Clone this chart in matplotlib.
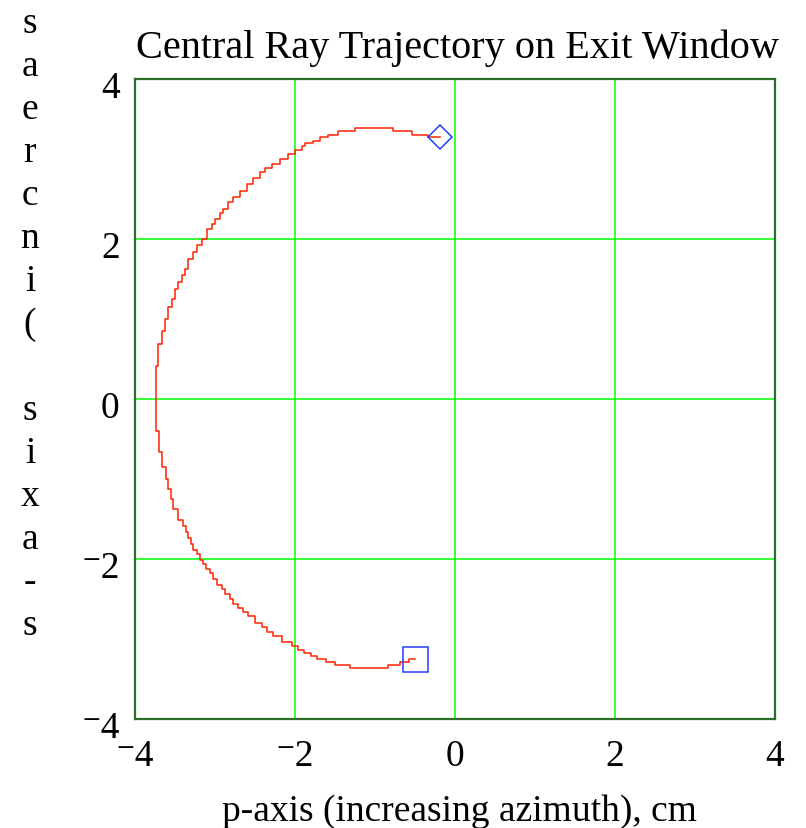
import numpy as np
import matplotlib
matplotlib.use('Agg')
import matplotlib.pyplot as plt
import matplotlib.transforms as mtransforms

# trajectory (cm), from the square end to the diamond end
p_vals = [-0.500, -0.570, -0.570, -0.688, -0.688, -0.841, -0.841, -1.313, -1.313, -1.500,
          -1.500, -1.616, -1.616, -1.729, -1.729, -1.800, -1.800, -1.883, -1.883, -1.958,
          -1.958, -2.041, -2.166, -2.270, -2.354, -2.416, -2.500, -2.583, -2.645, -2.708,
          -2.770, -2.813, -2.875, -2.916, -2.979, -3.020, -3.063, -3.116, -3.145, -3.188,
          -3.229, -3.270, -3.300, -3.341, -3.366, -3.395, -3.466, -3.520, -3.550, -3.583,
          -3.616, -3.658, -3.700, -3.741, -3.741, -3.708, -3.708, -3.666, -3.658, -3.625,
          -3.591, -3.541, -3.504, -3.466, -3.416, -3.375, -3.333, -3.270, -3.229, -3.166,
          -3.104, -3.041, -3.000, -2.938, -2.895, -2.833, -2.770, -2.688, -2.604, -2.520,
          -2.438, -2.375, -2.291, -2.188, -2.083, -2.000, -1.916, -1.875, -1.770, -1.688,
          -1.583, -1.458, -1.250, -0.770, -0.770, -0.541, -0.541, -0.354, -0.341, -0.188]
s_vals = [-3.246, -3.246, -3.284, -3.284, -3.321, -3.321, -3.359, -3.359, -3.321, -3.321,
          -3.284, -3.284, -3.246, -3.246, -3.209, -3.209, -3.171, -3.171, -3.134, -3.134,
          -3.091, -3.041, -2.966, -2.909, -2.854, -2.800, -2.716, -2.666, -2.616, -2.563,
          -2.500, -2.438, -2.375, -2.325, -2.250, -2.175, -2.125, -2.063, -2.009, -1.938,
          -1.884, -1.813, -1.741, -1.666, -1.584, -1.509, -1.375, -1.250, -1.125, -1.000,
          -0.854, -0.666, -0.396, -0.354, 0.416, 0.438, 0.688, 0.709, 0.854, 1.000,
          1.146, 1.250, 1.375, 1.463, 1.550, 1.625, 1.750, 1.841, 1.925, 2.000,
          2.125, 2.188, 2.250, 2.325, 2.375, 2.459, 2.521, 2.604, 2.688, 2.759,
          2.834, 2.884, 2.938, 3.000, 3.063, 3.116, 3.166, 3.196, 3.229, 3.271,
          3.304, 3.346, 3.384, 3.384, 3.346, 3.346, 3.304, 3.304, 3.271, 3.271]

tick_vals = [-4, -2, 0, 2, 4]
tick_text = ['\u207b4', '\u207b2', '0', '2', '4']
ylabel_chars = ['s', 'a', 'e', 'r', 'c', 'n', 'i', '(', '', 's', 'i', 'x', 'a', '-', 's']

serif = ['Liberation Serif', 'DejaVu Serif']
fs = 27

W, H = 806, 829
fig = plt.figure(figsize=(W / 100, H / 100), dpi=100)
ax = fig.add_axes([135 / W, 1 - 720 / H, 640 / W, 640 / H])

ax.plot(p_vals, s_vals, color='#ff2200', linewidth=1.1, drawstyle='steps-post', zorder=3)
ax.plot(p_vals[0], s_vals[0], marker='s', markersize=18, markerfacecolor='none',
        markeredgecolor='#2040ff', markeredgewidth=1.1, zorder=4)
ax.plot(p_vals[-1], s_vals[-1], marker='D', markersize=12.5, markerfacecolor='none',
        markeredgecolor='#2040ff', markeredgewidth=1.1, zorder=4)

ax.set_xlim(-4, 4)
ax.set_ylim(-4, 4)
ax.set_xticks(tick_vals)
ax.set_yticks(tick_vals)
ax.set_xticklabels(tick_text, family=serif, fontsize=fs)
ax.set_yticklabels(tick_text, family=serif, fontsize=fs)
ax.tick_params(axis='both', length=0)
ax.tick_params(axis='x', pad=14)
ax.tick_params(axis='y', pad=11)
# y tick labels sit a little below their grid lines in the reference
shift = mtransforms.ScaledTranslation(0, -5 / 100, fig.dpi_scale_trans)
for lab in ax.get_yticklabels():
    lab.set_transform(lab.get_transform() + shift)
ax.grid(True, color='#00ff00', linewidth=1.1)
ax.set_axisbelow(True)
for sp in ax.spines.values():
    sp.set_color('#2a6e2a')
    sp.set_linewidth(1.6)

fig.text(457 / W, 1 - 58 / H, 'Central Ray Trajectory on Exit Window',
         ha='center', va='baseline', family=serif, fontsize=29)
fig.text(459 / W, 1 - 821 / H, 'p-axis (increasing azimuth), cm',
         ha='center', va='baseline', family=serif, fontsize=fs)

# stacked y-axis label, one character per line
for i, ch in enumerate(ylabel_chars):
    if ch:
        fig.text(30 / W, 1 - (25 + 43 * i + 8) / H, ch, ha='center', va='baseline',
                 family=serif, fontsize=fs)

fig.savefig('out.png', dpi=100)
